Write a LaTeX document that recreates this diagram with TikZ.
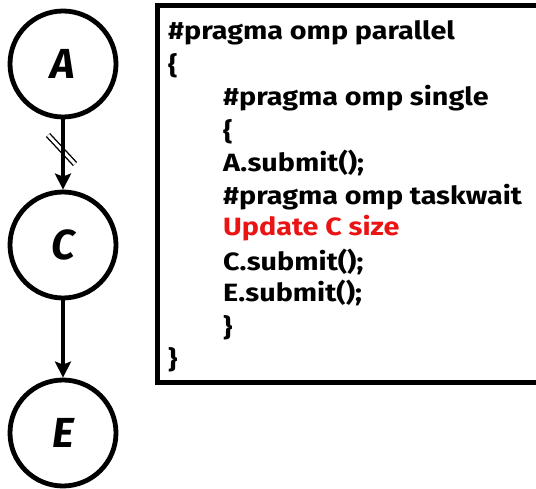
\documentclass[tikz,border=0pt]{standalone}
\usepackage{fontspec}
\setmainfont{Fira Sans}
\usetikzlibrary{arrows.meta}
\definecolor{codered}{RGB}{235,20,20}
\begin{document}
\begin{tikzpicture}[x=1pt,y=1pt,
  task/.style={circle,draw,line width=4.8pt,minimum size=106pt,inner sep=0pt,
    font=\fontsize{42}{42}\selectfont\bfseries\itshape},
  dep/.style={line width=4pt,-{Stealth[length=16pt,width=16pt,inset=3pt]}},
  code/.style={anchor=west,inner sep=0pt,
    font=\fontsize{25}{25}\selectfont\bfseries\addfontfeature{FakeStretch=1.15}},
  codebox/.style={draw,line width=5pt}]
\useasboundingbox (0,0) rectangle (536,488);
% task graph
\node[task] (A) at (63,424) {A};
\node[task] (C) at (63,243) {C};
\node[task] (E) at (63,55) {E};
% double slash across the first dependency
\draw[line width=1.4pt,double,double distance=3pt] (48,353) -- (75,324);
\draw[dep] (A) -- (C);
\draw[dep] (C) -- (E);
% code listing
\draw[codebox] (157,106) rectangle (539,482);
\node[code] (l1) at (168,455) {\#pragma omp parallel};
\node[code] (l2) at (168,422) {\{};
\node[code] (l3) at (223,390) {\#pragma omp single};
\node[code] (l4) at (223,356) {\{};
\node[code] (l5) at (223,325) {A.submit();};
\node[code] (l6) at (223,291) {\#pragma omp taskwait};
\node[code,text=codered] (l7) at (223,260) {Update C size};
\node[code] (l8) at (223,226) {C.submit();};
\node[code] (l9) at (223,195) {E.submit();};
\node[code] (l10) at (223,160) {\}};
\node[code] (l11) at (168,128) {\}};
\end{tikzpicture}
\end{document}
